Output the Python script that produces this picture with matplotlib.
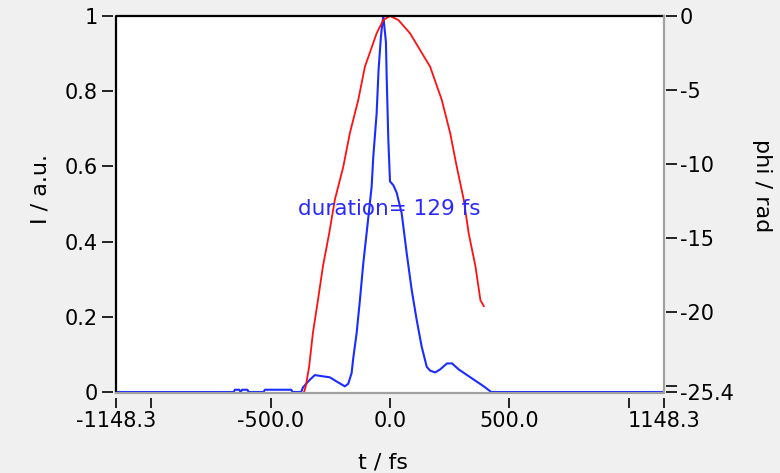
import matplotlib
matplotlib.use('Agg')
from matplotlib import pyplot as plt

# intensity trace (left axis)
t_int = [-1148.3, -655, -650, -632, -626, -620, -598, -592, -530, -524, -414, -408,
         -372, -365, -337, -315, -295, -252, -224, -189, -175, -161, -154, -140,
         -126, -112, -95, -77, -70, -56, -48, -38, -34, -28, -17, -14, -7, 0,
         14, 28, 49, 70, 91, 112, 133, 154, 168, 189, 210, 239, 260, 288, 323,
         358, 393, 424, 1148.3]
intensity = [0, 0, 0.006, 0.006, 0, 0.006, 0.006, 0, 0, 0.006, 0.006, 0,
             0, 0.012, 0.032, 0.045, 0.043, 0.039, 0.028, 0.015, 0.022, 0.05, 0.09, 0.156,
             0.245, 0.342, 0.44, 0.546, 0.626, 0.741, 0.856, 0.945, 0.97, 1.0, 0.93, 0.84, 0.67, 0.56,
             0.55, 0.53, 0.475, 0.369, 0.271, 0.191, 0.12, 0.067, 0.057, 0.052, 0.06, 0.076, 0.076, 0.06, 0.045,
             0.03, 0.015, 0, 0]

# phase trace (right axis)
t_phase = [-360, -353, -339, -323, -302, -281, -255, -231, -196, -168, -133, -105,
           -56, -28, 0, 35, 84, 168, 217, 252, 280, 309, 330, 358, 379, 393]
phase = [-25.4, -25.0, -23.7, -21.4, -19.2, -16.9, -14.7, -12.4, -10.2, -7.9, -5.67, -3.42,
         -1.17, -0.27, 0.0, -0.27, -1.17, -3.42, -5.67, -7.9, -10.2, -12.4, -14.7, -16.9, -19.2, -19.6]

x_ticks = [-1148.3, -1000, -500, 0, 500, 1000, 1148.3]
x_labels = ['-1148.3', '', '-500.0', '0.0', '500.0', '', '1148.3']
i_ticks = [0, 0.2, 0.4, 0.6, 0.8, 1]
i_labels = ['0', '0.2', '0.4', '0.6', '0.8', '1']
p_ticks = [0, -5, -10, -15, -20, -25, -25.4]
p_labels = ['0', '-5', '-10', '-15', '-20', '', '-25.4']

fig = plt.figure(figsize=(7.8, 4.73), dpi=100, facecolor='#f0f0f0')
ax = fig.add_axes([116 / 780, 1 - 392 / 473, 548 / 780, 376 / 473])
ax.set_facecolor('white')
ax2 = ax.twinx()

ax.plot(t_int, intensity, color='#1a2cff', lw=1.5)
ax2.plot(t_phase, phase, color='#ff1010', lw=1.3)

ax.set_xlim(-1148.3, 1148.3)
ax.set_ylim(0, 1)
ax2.set_ylim(-25.4, 0)

ax.set_xticks(x_ticks, x_labels)
ax.set_yticks(i_ticks, i_labels)
ax2.set_yticks(p_ticks, p_labels)

for a in (ax, ax2):
    for s in a.spines.values():
        s.set_visible(False)
ax.spines['bottom'].set_position(('outward', 4.3))
ax.spines['left'].set_position(('outward', 2.2))
ax2.spines['right'].set_position(('outward', 1.5))

ax.tick_params(axis='x', direction='out', length=7.2, width=1.2, pad=2, labelsize=15)
ax.tick_params(axis='y', direction='out', length=8, width=1.2, pad=3, labelsize=15)
ax2.tick_params(axis='y', direction='out', length=8, width=1.2, pad=2, labelsize=15)

# sunken frame: dark top/left, grey bottom/right
ax2.plot([0, 0, 1], [0, 1, 1], transform=ax2.transAxes, color='black', lw=1.6, clip_on=False)
ax2.plot([0, 1, 1], [-0.003, -0.003, 1], transform=ax2.transAxes, color='#a0a0a0', lw=1.6, clip_on=False)

ax2.text(-5, 0.487, 'duration= 129 fs', transform=ax.transData, color='#2a2aff',
         fontsize=15.5, ha='center', va='center')

fig.text(41 / 780, 1 - 189 / 473, 'I / a.u.', rotation=90, ha='center', va='center', fontsize=16)
fig.text(762 / 780, 1 - 186 / 473, 'phi / rad', rotation=270, ha='center', va='center', fontsize=16)
fig.text(383 / 780, 1 - 462 / 473, 't / fs', ha='center', va='center', fontsize=16)

fig.savefig('out.png', dpi=100, facecolor=fig.get_facecolor())
